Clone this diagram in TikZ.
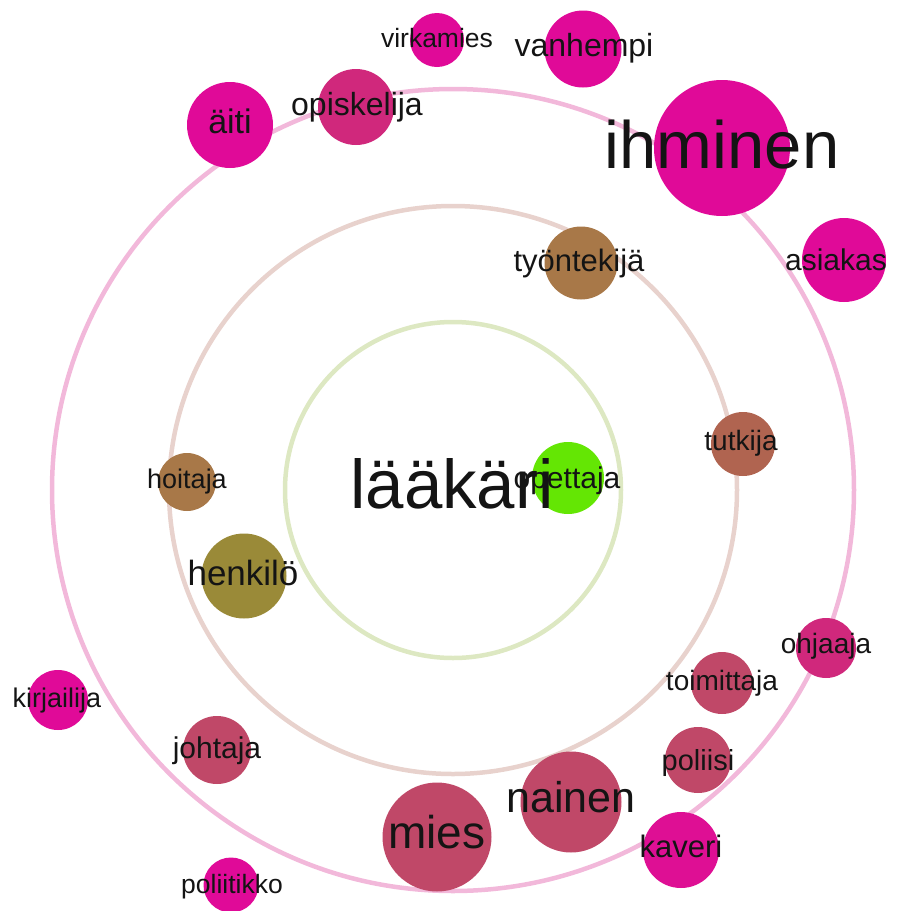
\documentclass[tikz,border=0pt]{standalone}
\usepackage{fontspec}
\setmainfont{Liberation Sans}
\definecolor{ringout}{HTML}{F2B8DA}
\definecolor{ringmid}{HTML}{E8D2CD}
\definecolor{ringin}{HTML}{DDE8C2}
\definecolor{hot}{HTML}{E00A98}
\definecolor{mag}{HTML}{D0287C}
\definecolor{rose}{HTML}{C04868}
\definecolor{brownA}{HTML}{A87848}
\definecolor{rust}{HTML}{B06450}
\definecolor{olive}{HTML}{9A8A38}
\definecolor{lime}{HTML}{64E604}
\definecolor{txt}{HTML}{141414}
\newcommand{\fsz}[1]{\fontsize{#1}{#1}\selectfont}
\tikzset{
  ring/.style={draw=#1, line width=4.5pt, fill=none},
  bub/.style={circle, fill=#1, draw=none, inner sep=0pt},
  lbl/.style={anchor=base, inner sep=0pt, text=txt, font=\fsz{#1}},
}
\begin{document}
\begin{tikzpicture}[x=1pt,y=-1pt]
\useasboundingbox (0,0) rectangle (908,911);
% rings
\coordinate (c) at (453,490);
\draw[ring=ringout] (c) circle[radius=401];
\draw[ring=ringmid] (c) circle[radius=284];
\draw[ring=ringin] (c) circle[radius=168];
% bubbles
\node[bub=hot, minimum size=54pt] (b-virkamies) at (437,40) {};
\node[bub=hot, minimum size=77pt] (b-vanhempi) at (583,49) {};
\node[bub=mag, minimum size=76pt] (b-opiskelija) at (356,107) {};
\node[bub=hot, minimum size=86pt] (b-aiti) at (230,125) {};
\node[bub=hot, minimum size=136pt] (b-ihminen) at (722,148) {};
\node[bub=hot, minimum size=84pt] (b-asiakas) at (844,260) {};
\node[bub=brownA, minimum size=73pt] (b-tyontekija) at (581,263) {};
\node[bub=rust, minimum size=64pt] (b-tutkija) at (743,444) {};
\node[bub=brownA, minimum size=58pt] (b-hoitaja) at (187,482) {};
\node[bub=lime, minimum size=72pt] (b-opettaja) at (568,478) {};
\node[bub=olive, minimum size=85pt] (b-henkilo) at (244,576) {};
\node[bub=mag, minimum size=60pt] (b-ohjaaja) at (826,648) {};
\node[bub=rose, minimum size=62pt] (b-toimittaja) at (722,683) {};
\node[bub=hot, minimum size=60pt] (b-kirjailija) at (58,700) {};
\node[bub=rose, minimum size=68pt] (b-johtaja) at (217,750) {};
\node[bub=rose, minimum size=66pt] (b-poliisi) at (698,760) {};
\node[bub=rose, minimum size=101pt] (b-nainen) at (571,802) {};
\node[bub=rose, minimum size=109pt] (b-mies) at (437,837) {};
\node[bub=hot!85!mag, minimum size=76pt] (b-kaveri) at (681,850) {};
\node[bub=hot, minimum size=55pt] (b-poliitikko) at (231,885) {};
% labels
\node[lbl=26.5] (t-virkamies) at (437,47) {virkamies};
\node[lbl=32] (t-vanhempi) at (584,56) {vanhempi};
\node[lbl=32] (t-opiskelija) at (357,115) {opiskelija};
\node[lbl=34] (t-aiti) at (230,133) {äiti};
\node[lbl=67] (t-ihminen) at (722,168) {ihminen};
\node[lbl=30] (t-asiakas) at (836,270) {asiakas};
\node[lbl=31] (t-tyontekija) at (579,271) {työntekijä};
\node[lbl=28] (t-tutkija) at (741,450) {tutkija};
\node[lbl=27] (t-hoitaja) at (187,488) {hoitaja};
\node[lbl=69] (t-laakari) at (452,508) {lääkäri};
\node[lbl=30] (t-opettaja) at (567,488) {opettaja};
\node[lbl=35] (t-henkilo) at (243,585) {henkilö};
\node[lbl=28] (t-ohjaaja) at (826,653) {ohjaaja};
\node[lbl=28] (t-toimittaja) at (722,690) {toimittaja};
\node[lbl=27] (t-kirjailija) at (57,707) {kirjailija};
\node[lbl=30] (t-johtaja) at (217,758) {johtaja};
\node[lbl=29] (t-poliisi) at (698,770) {poliisi};
\node[lbl=43] (t-nainen) at (571,812) {nainen};
\node[lbl=46] (t-mies) at (437,848) {mies};
\node[lbl=31] (t-kaveri) at (681,857) {kaveri};
\node[lbl=26.5] (t-poliitikko) at (232,893) {poliitikko};
\end{tikzpicture}
\end{document}
